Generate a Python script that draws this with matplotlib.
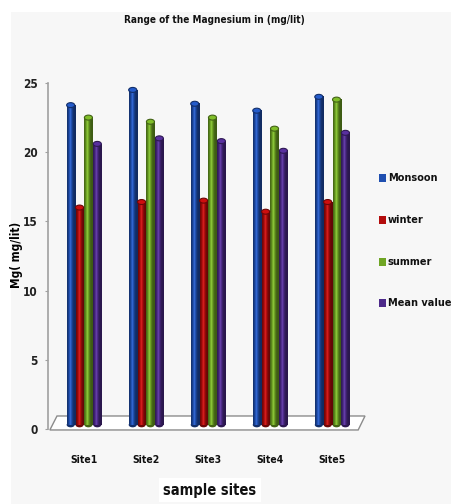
import numpy as np
import matplotlib
matplotlib.use("Agg")
import matplotlib.pyplot as plt
from matplotlib import font_manager
from matplotlib.patches import Ellipse, Polygon, Rectangle
from matplotlib.colors import to_rgb

sites = ["Site1", "Site2", "Site3", "Site4", "Site5"]
monsoon = [23.4, 24.5, 23.5, 23.0, 24.0]
winter = [16.0, 16.4, 16.5, 15.7, 16.4]
summer = [22.5, 22.2, 22.5, 21.7, 23.8]
mean_value = [20.6, 21.0, 20.8, 20.1, 21.4]

series_names = ["Monsoon", "winter", "summer", "Mean value"]
series_values = [monsoon, winter, summer, mean_value]
series_colors = ["#1f4fb0", "#b30c0c", "#6fa524", "#4d2a8a"]

yticks = [0, 5, 10, 15, 20, 25]


def pick_narrow_font():
    """Return (family, stretch) of a condensed sans face if one is installed."""
    entries = font_manager.fontManager.ttflist
    narrow_words = ("Narrow", "Condensed")
    narrow_stretch = ("condensed", "semi-condensed", "extra-condensed",
                      "ultra-condensed")
    prefs = ["Liberation Sans Narrow", "DejaVu Sans", "Roboto Condensed",
             "Roboto", "Open Sans Condensed", "Open Sans", "Noto Sans"]
    found = []
    for f in entries:
        st = f.stretch if isinstance(f.stretch, str) else str(f.stretch)
        if any(w in f.name for w in narrow_words) or st in narrow_stretch:
            found.append((f.name, st))
    for p in prefs:
        for name, st in found:
            if name == p:
                return name, st
    if found:
        return found[0]
    return "Lato", "normal"


FAMILY, STRETCH = pick_narrow_font()
FONT = [FAMILY, "DejaVu Sans"]
plt.rcParams["font.family"] = FONT
plt.rcParams["font.stretch"] = STRETCH

W, H = 452, 504
fig = plt.figure(figsize=(W / 100, H / 100), dpi=100)
fig.patch.set_facecolor("white")

# light grey chart panel with a thin white margin on the top and left
fig.add_artist(Rectangle((11 / W, 0), 1 - 11 / W, 1 - 12 / H,
                         transform=fig.transFigure, facecolor="#f7f7f7",
                         edgecolor="none", zorder=0))

ax = fig.add_axes([48 / W, 1 - 429 / H, (365 - 48) / W, (429 - 83) / H])
ax.set_facecolor("none")

x = np.arange(len(sites))
bar_w = 0.13
step = 0.143
offsets = (np.arange(len(series_names)) - 1.5) * step
cap_h = 0.36


def shade(color, n=24):
    base = np.array(to_rgb(color))
    t = np.linspace(-1, 1, n)
    # cylinder shading: bright band left of centre, darker rims
    light = 0.55 + 0.55 * np.exp(-((t + 0.25) ** 2) / 0.25)
    light = np.clip(light, 0.4, 1.15)
    cols = np.clip(base[None, :] * light[:, None]
                   + np.clip(light - 1, 0, None)[:, None] * 0.8, 0, 1)
    return cols[None, :, :]


# floor of the chart
floor = Polygon([(-0.55, -0.07), (4.42, -0.07), (4.53, 0.94), (-0.435, 0.94)],
                closed=True, facecolor="white", edgecolor="#8c8c8c",
                linewidth=1.0, clip_on=False, zorder=1)
ax.add_patch(floor)

for vals, col, off in zip(series_values, series_colors, offsets):
    grad = shade(col)
    rim = tuple(np.array(to_rgb(col)) * 0.6)
    for xi, v in zip(x, vals):
        x0 = xi + off - bar_w / 2
        x1 = xi + off + bar_w / 2
        ax.imshow(grad, extent=(x0, x1, 0.3, v), aspect="auto",
                  interpolation="bilinear", zorder=3, clip_on=False)
        ax.add_patch(Ellipse((xi + off, 0.3), bar_w, cap_h,
                             facecolor=rim, edgecolor="none", zorder=2.9,
                             clip_on=False))
        ax.add_patch(Ellipse((xi + off, v), bar_w, cap_h,
                             facecolor=tuple(np.clip(np.array(to_rgb(col)) * 1.15, 0, 1)),
                             edgecolor=rim, linewidth=0.8, zorder=4,
                             clip_on=False))

ax.set_xlim(-0.58, 4.53)
ax.set_ylim(0, 25)

for s in ["top", "right", "bottom"]:
    ax.spines[s].set_visible(False)
ax.spines["left"].set_color("#a0a0a0")
ax.spines["left"].set_linewidth(1.2)

ax.set_yticks(yticks)
ax.set_yticklabels([str(t) for t in yticks], fontsize=8.5, fontweight="bold",
                   color="#222222")
ax.tick_params(axis="y", length=2.5, color="#a0a0a0", pad=5)
ax.set_xticks(x)
ax.set_xticklabels(sites, fontsize=7.5, fontweight="bold", color="#111111")
ax.tick_params(axis="x", length=0, pad=19)

ax.set_ylabel("Mg( mg/lit)", fontsize=8.5, fontweight="bold")
ax.yaxis.set_label_coords(-25 / 317, (429 - 255) / 346)

fig.text(214 / W, 1 - 20 / H, "Range of the Magnesium in (mg/lit)",
         ha="center", va="center", fontsize=7.2, fontweight="bold",
         color="#111111")

fig.text(210 / W, 1 - 490 / H, "sample sites", ha="center", va="center",
         fontsize=10.5, fontweight="bold", color="#111111",
         bbox=dict(facecolor="white", edgecolor="none", pad=3))

# legend
leg_y = [178, 220, 262, 303]
for name, col, yy in zip(series_names, series_colors, leg_y):
    fig.add_artist(Rectangle((379 / W, 1 - (yy + 4) / H), 7 / W, 8 / H,
                             transform=fig.transFigure, facecolor=col,
                             edgecolor="none"))
    fig.text(388 / W, 1 - yy / H, name, ha="left", va="center",
             fontsize=7.8, fontweight="bold", color="#111111")

fig.savefig("out.png", dpi=100, facecolor=fig.get_facecolor())
